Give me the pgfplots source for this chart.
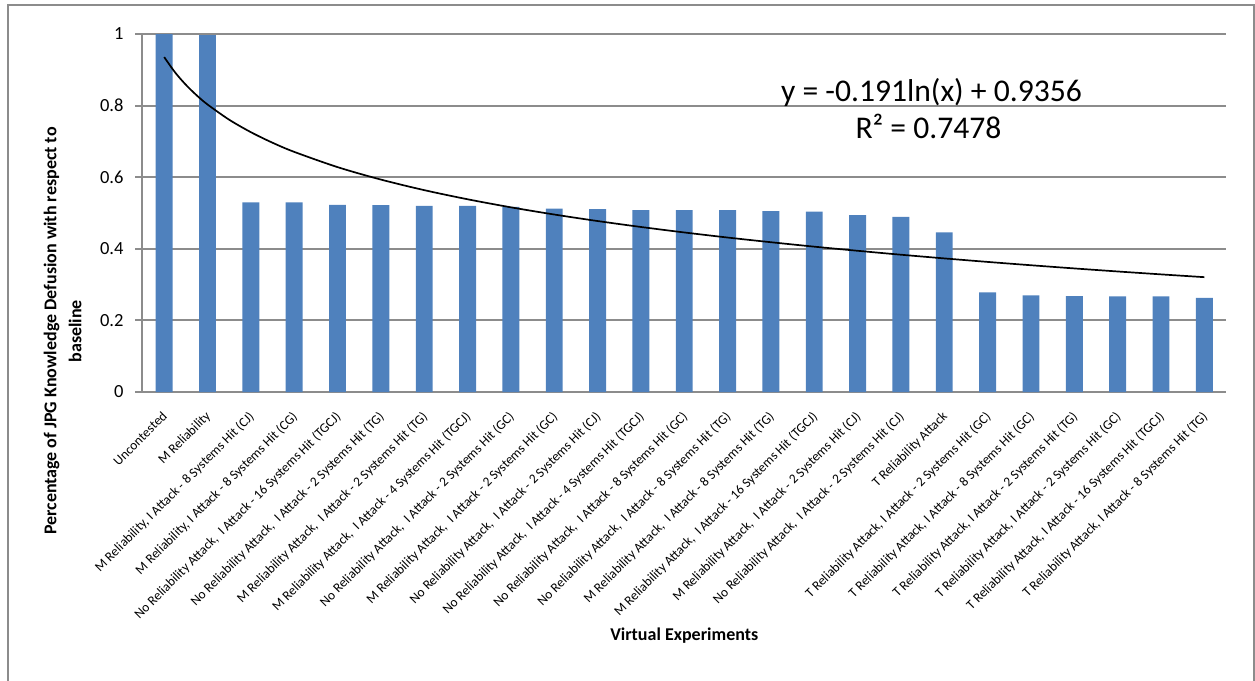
\documentclass[border=0pt]{standalone}
\usepackage{pgfplots}
\pgfplotsset{compat=1.18}
\usepackage{pgfplotstable}
\usepackage{fontspec}
\setmainfont{Carlito}
\definecolor{barblue}{HTML}{4F81BD}
\definecolor{gridgray}{HTML}{8C8C8C}
\definecolor{framegray}{HTML}{8C8C8C}

\pgfplotstableread{
x y
1 1.000
2 0.997
3 0.530
4 0.530
5 0.523
6 0.522
7 0.520
8 0.520
9 0.517
10 0.512
11 0.511
12 0.508
13 0.508
14 0.508
15 0.505
16 0.504
17 0.494
18 0.489
19 0.446
20 0.278
21 0.270
22 0.268
23 0.267
24 0.267
25 0.263
}\bardata

\pgfplotstableread{
x y
1 0.9356
1.25 0.8930
1.5 0.8582
1.75 0.8287
2 0.8032
2.5 0.7606
3 0.7258
3.5 0.6963
4 0.6708
5 0.6282
6 0.5934
7 0.5639
8 0.5384
9 0.5159
10 0.4958
11 0.4776
12 0.4610
13 0.4457
14 0.4315
15 0.4184
16 0.4060
17 0.3945
18 0.3835
19 0.3732
20 0.3634
21 0.3541
22 0.3452
23 0.3367
24 0.3286
25 0.3208
}\trenddata

\begin{document}
\begin{tikzpicture}
\path[use as bounding box] (0,0) rectangle (627.5pt,-340.5pt);
\draw[framegray, line width=0.6pt] (4pt,-341pt) -- (4pt,-2.5pt) -- (627pt,-2.5pt) -- (627pt,-341pt);
\begin{axis}[
  at={(71.25pt,-196pt)}, anchor=south west,
  scale only axis, width=541.75pt, height=179pt,
  xmin=0.5, xmax=25.5, ymin=0, ymax=1,
  axis x line*=bottom, axis y line*=left,
  axis line style={-, gridgray, line width=1pt},
  ymajorgrids, grid style={gridgray, line width=1pt},
  ytick={0,0.2,0.4,0.6,0.8,1},
  tick align=outside, major tick length=3.5pt,
  ytick style={gridgray, line width=1pt},
  xtick style={draw=none},
  /pgf/number format/assume math mode=true,
  yticklabel style={font=\fontsize{9.25}{10}\selectfont, xshift=-2.5pt},
  xtick={1,...,25},
  xticklabels={
    {Uncontested},
    {M Reliability},
    {M Reliability, I Attack - 8 Systems Hit (CJ)},
    {M Reliability, I Attack - 8 Systems Hit (CG)},
    {No Reliability Attack, \ I Attack - 16 Systems Hit (TGCJ)},
    {No Reliability Attack, \ I Attack - 2 Systems Hit (TG)},
    {M Reliability Attack, \ I Attack - 2 Systems Hit (TG)},
    {M Reliability Attack, \ I Attack - 4 Systems Hit (TGCJ)},
    {No Reliability Attack, \ I Attack - 2 Systems Hit (GC)},
    {M Reliability Attack, \ I Attack - 2 Systems Hit (GC)},
    {No Reliability Attack, \ I Attack - 2 Systems Hit (CJ)},
    {No Reliability Attack, \ I Attack - 4 Systems Hit (TGCJ)},
    {No Reliability Attack, \ I Attack - 8 Systems Hit (GC)},
    {No Reliability Attack, \ I Attack - 8 Systems Hit (TG)},
    {M Reliability Attack, \ I Attack - 8 Systems Hit (TG)},
    {M Reliability Attack, \ I Attack - 16 Systems Hit (TGCJ)},
    {M Reliability Attack, \ I Attack - 2 Systems Hit (CJ)},
    {No Reliability Attack, \ I Attack - 2 Systems Hit (CJ)},
    {T Reliability Attack},
    {T Reliability Attack, I Attack - 2 Systems Hit (GC)},
    {T Reliability Attack, I Attack - 8 Systems Hit (GC)},
    {T Reliability Attack, I Attack - 2 Systems Hit (TG)},
    {T Reliability Attack, I Attack - 2 Systems Hit (GC)},
    {T Reliability Attack, I Attack - 16 Systems Hit (TGCJ)},
    {T Reliability Attack, I Attack - 8 Systems Hit (TG)}
  },
  xticklabel style={font=\fontsize{6.7}{8}\selectfont, xshift=-1.5pt, yshift=-5.5pt, rotate=45, anchor=north east, inner sep=0pt},
  xlabel={Virtual Experiments},
  xlabel style={at={(axis description cs:0.5,-0.6816)}, anchor=center, font=\fontsize{9}{11}\selectfont\bfseries},
  ylabel={Percentage of JPG Knowledge Defusion with respect to\\baseline},
  ylabel style={at={(axis description cs:-0.0738,0.170)}, anchor=center, rotate=0, align=center, font=\fontsize{9}{12.5}\selectfont\bfseries},
  clip=false,
]
\addplot[ybar, bar width=0.39, fill=barblue, draw=none] table[x=x,y=y]{\bardata};
\addplot[black, line width=0.85pt, smooth, no markers] table[x=x,y=y]{\trenddata};
\end{axis}
\node[anchor=base, font=\fontsize{15.8}{18}\selectfont] at (465.75pt,-50.85pt) {y = -0.191ln(x) + 0.9356};
\node[anchor=base, font=\fontsize{15.8}{18}\selectfont] at (464.25pt,-69.15pt) {R² = 0.7478};
\end{tikzpicture}
\end{document}
